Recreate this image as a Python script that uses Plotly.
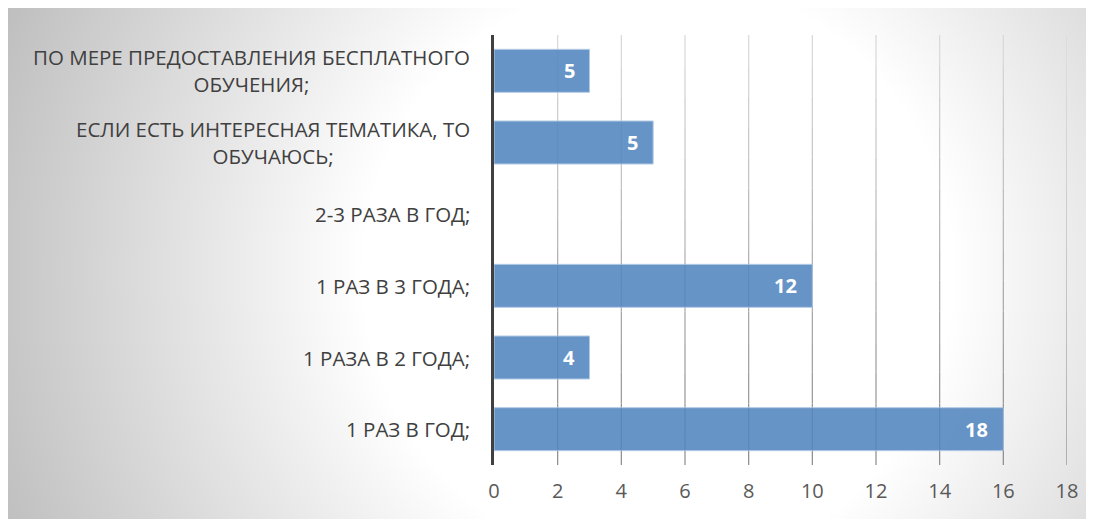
import base64
import plotly.graph_objects as go

# categories top -> bottom as in the picture
categories = [
    "ПО МЕРЕ ПРЕДОСТАВЛЕНИЯ БЕСПЛАТНОГО<br>ОБУЧЕНИЯ;",
    "ЕСЛИ ЕСТЬ ИНТЕРЕСНАЯ ТЕМАТИКА, ТО<br>ОБУЧАЮСЬ;",
    "2-3 РАЗА В ГОД;",
    "1 РАЗ В 3 ГОДА;",
    "1 РАЗА В 2 ГОДА;",
    "1 РАЗ В ГОД;",
]
bar_values = [3, 5, None, 10, 3, 16]
bar_labels = ["5", "5", "", "12", "4", "18"]
x_ticks = [0, 2, 4, 6, 8, 10, 12, 14, 16, 18]

FONT = "Open Sans"

W, H = 1094, 519
L, R, T, B = 486, 35, 27, 62
pw, ph = W - L - R, H - T - B

# radial background like the office chart area
svg = f"""<svg xmlns='http://www.w3.org/2000/svg' width='{W}' height='{H}'>
<defs><radialGradient id='g' gradientUnits='userSpaceOnUse' cx='650' cy='265' r='700'>
<stop offset='0' stop-color='#ffffff'/>
<stop offset='0.42' stop-color='#ffffff'/>
<stop offset='1' stop-color='#bfbfbf'/>
</radialGradient></defs>
<rect width='{W}' height='{H}' fill='url(#g)'/></svg>"""
bg_src = "data:image/svg+xml;base64," + base64.b64encode(svg.encode()).decode()

fig = go.Figure()
fig.add_trace(go.Bar(
    y=categories, x=bar_values, orientation="h",
    marker=dict(color="#5386bf", line=dict(color="#a9c3e3", width=1)),
    opacity=0.88, width=0.6, hoverinfo="skip",
))

# gridlines fade from light at the top to darker grey at the bottom
shapes = []
n_seg = 14
for t in x_ticks[1:]:
    for i in range(n_seg):
        shade = int(220 - (220 - 135) * (i + 0.5) / n_seg)
        shapes.append(dict(
            type="line", xref="x", yref="paper", x0=t, x1=t,
            y0=1 - i / n_seg, y1=1 - (i + 1) / n_seg,
            line=dict(color=f"rgb({shade},{shade},{shade})", width=1.2),
            layer="below",
        ))

annotations = []
for c in categories:
    annotations.append(dict(
        x=0, y=c, xref="x", yref="y", text=c, showarrow=False,
        xanchor="right", yanchor="middle", align="center", xshift=-22,
        font=dict(family=FONT, size=20.5, color="#404040"),
    ))
for c, v, lab in zip(categories, bar_values, bar_labels):
    if v is None:
        continue
    annotations.append(dict(
        x=v, y=c, xref="x", yref="y", text=lab, showarrow=False,
        xanchor="right", yanchor="middle", xshift=-13,
        font=dict(family=FONT, size=20, color="white", weight="bold"),
    ))

fig.update_layout(
    width=W, height=H,
    margin=dict(l=L, r=R, t=T, b=B),
    paper_bgcolor="white", plot_bgcolor="rgba(0,0,0,0)",
    showlegend=False,
    annotations=annotations,
    shapes=shapes,
    images=[dict(
        source=bg_src, xref="paper", yref="paper",
        x=-L / pw, y=1 + T / ph, sizex=W / pw, sizey=H / ph,
        xanchor="left", yanchor="top", sizing="stretch", layer="below",
    )],
    xaxis=dict(
        range=[0, 18], tickvals=x_ticks, showgrid=False,
        zeroline=False, showline=False, ticks="", ticklabelstandoff=12,
        tickfont=dict(family=FONT, size=20, color="#595959"), fixedrange=True,
    ),
    yaxis=dict(
        categoryorder="array", categoryarray=categories[::-1],
        showticklabels=False, showgrid=False, zeroline=False,
        showline=True, linecolor="#404040", linewidth=3, ticks="", fixedrange=True,
    ),
)

fig.write_html("out.html")
